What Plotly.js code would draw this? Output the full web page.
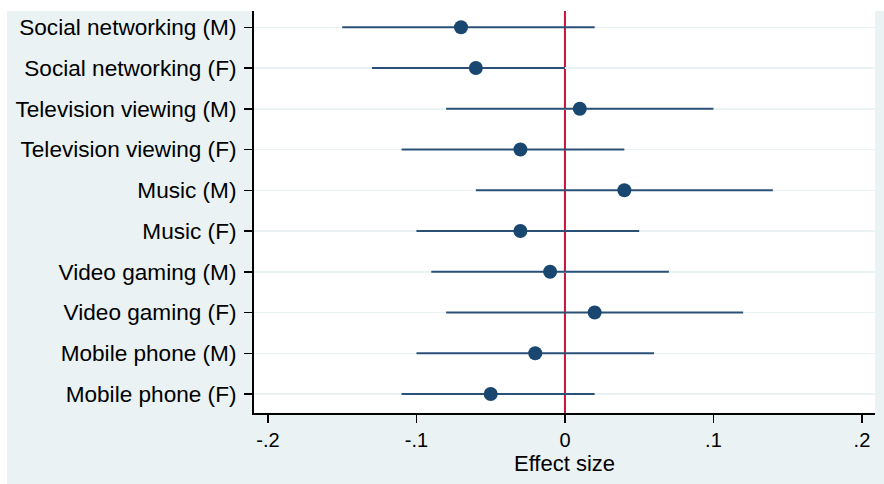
<!DOCTYPE html>
<html>
<head>
<meta charset="utf-8">
<script src="https://cdn.plot.ly/plotly-3.0.1.min.js"></script>
<style>html,body{margin:0;padding:0;background:#fff;}#chart{width:884px;height:484px;}</style>
</head>
<body>
<div id="chart"></div>
<script>
const categories = [
  "Social networking (M)", "Social networking (F)",
  "Television viewing (M)", "Television viewing (F)",
  "Music (M)", "Music (F)",
  "Video gaming (M)", "Video gaming (F)",
  "Mobile phone (M)", "Mobile phone (F)"
];
const estimates = [-0.07, -0.06, 0.01, -0.03, 0.04, -0.03, -0.01, 0.02, -0.02, -0.05];
const lower     = [-0.15, -0.13, -0.08, -0.11, -0.06, -0.10, -0.09, -0.08, -0.10, -0.11];
const upper     = [0.02, 0.00, 0.10, 0.04, 0.14, 0.05, 0.07, 0.12, 0.06, 0.02];
const xTickVals = [-0.2, -0.1, 0, 0.1, 0.2];
const xTickText = ["-.2", "-.1", "0", ".1", ".2"];

const rows = categories.map((c, i) => i + 1);
const navy = "#1a476f";
const lineCol = "#2b5078";

const traces = [];
categories.forEach((c, i) => {
  traces.push({
    x: [lower[i], upper[i]], y: [rows[i], rows[i]],
    mode: "lines", type: "scatter",
    line: {color: lineCol, width: 2},
    hoverinfo: "skip", showlegend: false
  });
});
traces.push({
  x: estimates, y: rows, mode: "markers", type: "scatter",
  marker: {color: navy, size: 14},
  showlegend: false, name: "Estimate"
});

const layout = {
  width: 884, height: 484,
  margin: {l: 254, r: 9, t: 11, b: 71},
  paper_bgcolor: "#eaf2f3",
  plot_bgcolor: "#ffffff",
  font: {family: "Liberation Sans, Arial, sans-serif", color: "#000"},
  showlegend: false,
  xaxis: {
    range: [-0.2094, 0.2088],
    tickvals: xTickVals, ticktext: xTickText,
    ticks: "outside", ticklen: 8, tickwidth: 1.5, tickcolor: "#000",
    showgrid: false, zeroline: false,
    showline: true, linecolor: "#000", linewidth: 2,
    tickfont: {size: 20},
    title: {text: "Effect size", font: {size: 22}, standoff: 4},
    fixedrange: true
  },
  yaxis: {
    range: [10.466, 0.6],
    tickvals: rows, ticktext: categories,
    ticks: "outside", ticklen: 8, tickwidth: 1.5, tickcolor: "#000",
    ticklabelstandoff: 3,
    showgrid: true, gridcolor: "#eaf2f3", gridwidth: 1.5,
    zeroline: false,
    showline: true, linecolor: "#000", linewidth: 2,
    tickfont: {size: 22.6},
    fixedrange: true
  },
  shapes: [
    {type: "rect", xref: "paper", yref: "paper", x0: -0.42, x1: 1.02, y0: 1.0, y1: 1.03,
     fillcolor: "#ffffff", line: {width: 0}, layer: "below"},
    {type: "rect", xref: "paper", yref: "paper", x0: -0.42, x1: -0.3977, y0: -0.2, y1: 1.03,
     fillcolor: "#ffffff", line: {width: 0}, layer: "below"},
    {type: "line", xref: "x", yref: "paper", x0: 0, x1: 0, y0: 0, y1: 1,
     line: {color: "#c8143c", width: 2}, layer: "below"}
  ]
};

Plotly.newPlot("chart", traces, layout, {displayModeBar: false, staticPlot: true});
</script>
</body>
</html>
